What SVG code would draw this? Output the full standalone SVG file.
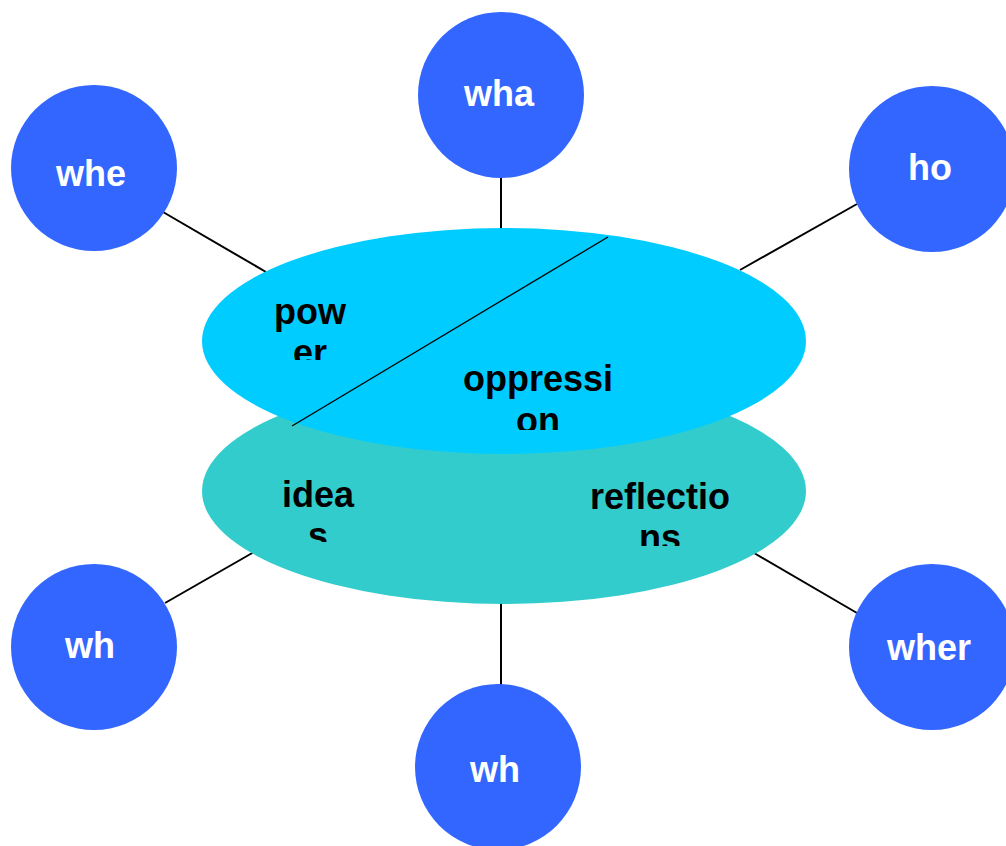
<svg xmlns="http://www.w3.org/2000/svg" width="1006" height="846" viewBox="0 0 1006 846">
<style>
.c{fill:#3366FF}
.cl{font-family:"Liberation Sans",Arial,sans-serif;font-weight:bold;font-size:36px;fill:#FFFFFF;text-anchor:middle}
.el{font-family:"Liberation Sans",Arial,sans-serif;font-weight:bold;font-size:36px;fill:#000000;text-anchor:middle}
.ln{stroke:#000000;stroke-width:2;fill:none}
</style>
<defs>
<clipPath id="cpPower"><rect x="250" y="280" width="120" height="80"/></clipPath>
<clipPath id="cpOpp"><rect x="440" y="350" width="200" height="80"/></clipPath>
<clipPath id="cpIdeas"><rect x="260" y="465" width="120" height="77"/></clipPath>
<clipPath id="cpRefl"><rect x="570" y="465" width="180" height="81"/></clipPath>
</defs>
<rect width="1006" height="846" fill="#FFFFFF"/>
<g id="connectors">
<line class="ln" x1="163" y1="212" x2="266" y2="272"/>
<line class="ln" x1="501" y1="170" x2="501" y2="230"/>
<line class="ln" x1="857" y1="204" x2="740" y2="270"/>
<line class="ln" x1="165" y1="603" x2="254" y2="552"/>
<line class="ln" x1="501" y1="600" x2="501" y2="686"/>
<line class="ln" x1="754" y1="553" x2="857" y2="613"/>
</g>
<g id="ellipse-bottom">
<ellipse cx="504" cy="491" rx="302" ry="113" fill="#33CCCC"/>
</g>
<g id="ellipse-top">
<ellipse cx="504" cy="341" rx="302" ry="113" fill="#00CCFF"/>
</g>
<g id="divider">
<line x1="608" y1="237" x2="292" y2="426" stroke="#000000" stroke-width="1.3"/>
</g>
<g id="label-power" clip-path="url(#cpPower)">
<text class="el" x="310" y="324">pow</text>
<text class="el" x="310" y="365">er</text>
</g>
<g id="label-oppression" clip-path="url(#cpOpp)">
<text class="el" x="538" y="391">oppressi</text>
<text class="el" x="538" y="433">on</text>
</g>
<g id="label-ideas" clip-path="url(#cpIdeas)">
<text class="el" x="318" y="507">idea</text>
<text class="el" x="318" y="548">s</text>
</g>
<g id="label-reflections" clip-path="url(#cpRefl)">
<text class="el" x="660" y="509">reflectio</text>
<text class="el" x="660" y="550">ns</text>
</g>
<g id="node-whe">
<circle class="c" cx="94" cy="168" r="83"/>
<text class="cl" x="91" y="186">whe</text>
</g>
<g id="node-wha">
<circle class="c" cx="501" cy="95" r="83"/>
<text class="cl" x="499" y="106">wha</text>
</g>
<g id="node-ho">
<circle class="c" cx="932" cy="169" r="83"/>
<text class="cl" x="930" y="180">ho</text>
</g>
<g id="node-wh-left">
<circle class="c" cx="94" cy="647" r="83"/>
<text class="cl" x="90" y="658">wh</text>
</g>
<g id="node-wh-bottom">
<circle class="c" cx="498" cy="767" r="83"/>
<text class="cl" x="495" y="782">wh</text>
</g>
<g id="node-wher">
<circle class="c" cx="932" cy="647" r="83"/>
<text class="cl" x="929" y="660">wher</text>
</g>
</svg>
